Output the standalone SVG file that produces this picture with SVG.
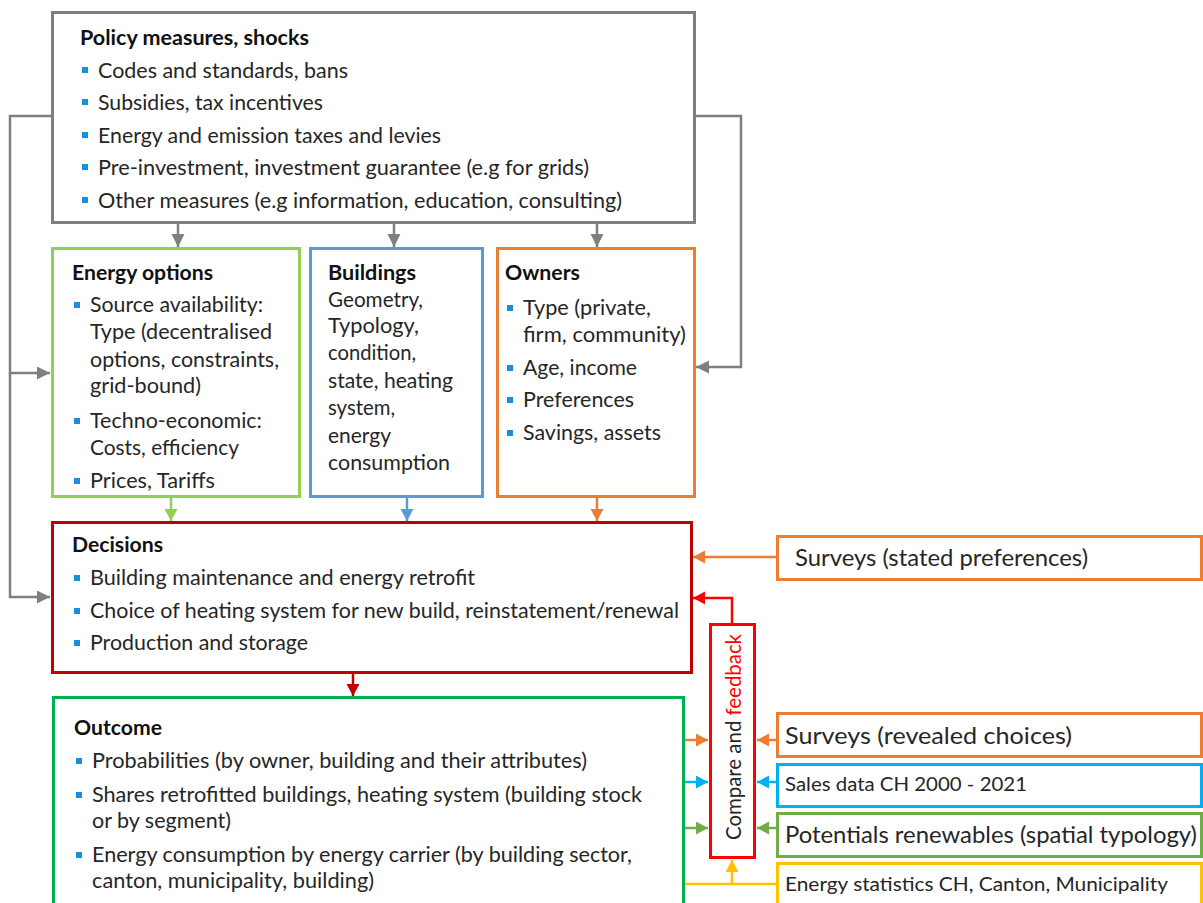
<svg xmlns="http://www.w3.org/2000/svg" width="1203" height="903" viewBox="0 0 1203 903">
<style>
text{font-family:Lato,"Liberation Sans",sans-serif;fill:#262626;font-size:21px}
.t{font-weight:bold;fill:#111}
.box{fill:#fff;stroke-width:3}
.b{fill:#1b8ed8}
.src{font-size:22.5px}
.lg{font-size:23.5px}
.sm{font-size:19.5px}
.c{fill:none;stroke-width:2.5}
</style>
<defs>
<marker id="ag" markerUnits="userSpaceOnUse" markerWidth="14" markerHeight="14" refX="13" refY="6.5" orient="auto"><path d="M0,0 L13,6.5 L0,13z" fill="#7f7f7f"/></marker>
<marker id="alg" markerUnits="userSpaceOnUse" markerWidth="14" markerHeight="14" refX="12" refY="6.5" orient="auto"><path d="M0,0 L12,6.5 L0,13z" fill="#92d050"/></marker>
<marker id="abl" markerUnits="userSpaceOnUse" markerWidth="14" markerHeight="14" refX="12" refY="6.5" orient="auto"><path d="M0,0 L12,6.5 L0,13z" fill="#5b9bd5"/></marker>
<marker id="aor" markerUnits="userSpaceOnUse" markerWidth="14" markerHeight="14" refX="12" refY="6.5" orient="auto"><path d="M0,0 L12,6.5 L0,13z" fill="#ed7d31"/></marker>
<marker id="adr" markerUnits="userSpaceOnUse" markerWidth="14" markerHeight="14" refX="12" refY="6.5" orient="auto"><path d="M0,0 L12,6.5 L0,13z" fill="#c00000"/></marker>
<marker id="ard" markerUnits="userSpaceOnUse" markerWidth="14" markerHeight="14" refX="12" refY="6.5" orient="auto"><path d="M0,0 L12,6.5 L0,13z" fill="#ff0000"/></marker>
<marker id="acy" markerUnits="userSpaceOnUse" markerWidth="14" markerHeight="14" refX="12" refY="6.5" orient="auto"><path d="M0,0 L12,6.5 L0,13z" fill="#00b0f0"/></marker>
<marker id="agr" markerUnits="userSpaceOnUse" markerWidth="14" markerHeight="14" refX="12" refY="6.5" orient="auto"><path d="M0,0 L12,6.5 L0,13z" fill="#70ad47"/></marker>
<marker id="aye" markerUnits="userSpaceOnUse" markerWidth="14" markerHeight="14" refX="12" refY="6.5" orient="auto"><path d="M0,0 L12,6.5 L0,13z" fill="#ffc000"/></marker>
</defs>
<rect width="1203" height="903" fill="#fff"/>

<g id="connectors">
<path class="c" stroke="#7f7f7f" d="M52,116 H10 V373 H50" marker-end="url(#ag)"/>
<path class="c" stroke="#7f7f7f" d="M10,373 V597 H50" marker-end="url(#ag)"/>
<path class="c" stroke="#7f7f7f" d="M695,116 H741 V367 H696" marker-end="url(#ag)"/>
<path class="c" stroke="#7f7f7f" d="M178,223 V247" marker-end="url(#ag)"/>
<path class="c" stroke="#7f7f7f" d="M394,223 V247" marker-end="url(#ag)"/>
<path class="c" stroke="#7f7f7f" d="M597,223 V247" marker-end="url(#ag)"/>
<path class="c" stroke="#92d050" d="M171,498 V521" marker-end="url(#alg)"/>
<path class="c" stroke="#5b9bd5" d="M407,498 V521" marker-end="url(#abl)"/>
<path class="c" stroke="#ed7d31" d="M597,498 V521" marker-end="url(#aor)"/>
<path class="c" stroke="#c00000" d="M353,674 V696" marker-end="url(#adr)"/>
<path class="c" stroke="#ed7d31" stroke-width="2" d="M777,557 H693" marker-end="url(#aor)"/>
<path class="c" stroke="#ff0000" d="M732,624 V598 H693" marker-end="url(#ard)"/>
<path class="c" stroke="#ed7d31" d="M684,740 H708" marker-end="url(#aor)"/>
<path class="c" stroke="#00b0f0" d="M684,782 H708" marker-end="url(#acy)"/>
<path class="c" stroke="#70ad47" d="M684,828 H708" marker-end="url(#agr)"/>
<path class="c" stroke="#ed7d31" d="M777,740 H757" marker-end="url(#aor)"/>
<path class="c" stroke="#00b0f0" d="M777,782 H757" marker-end="url(#acy)"/>
<path class="c" stroke="#70ad47" d="M777,828 H757" marker-end="url(#agr)"/>
<path class="c" stroke="#ffc000" d="M684,884 H777"/>
<path class="c" stroke="#ffc000" d="M732,884 V860" marker-end="url(#aye)"/>
</g>

<g id="policy">
<rect class="box" x="52.5" y="12.5" width="642" height="210" stroke="#7f7f7f"/>
<text class="t" x="80" y="45" textLength="229" lengthAdjust="spacingAndGlyphs">Policy measures, shocks</text>
<rect class="b" x="82" y="67" width="6" height="6"/><text x="98" y="78" textLength="250" lengthAdjust="spacingAndGlyphs">Codes and standards, bans</text>
<rect class="b" x="82" y="99" width="6" height="6"/><text x="98" y="110" textLength="225" lengthAdjust="spacingAndGlyphs">Subsidies, tax incentives</text>
<rect class="b" x="82" y="132" width="6" height="6"/><text x="98" y="143" textLength="343" lengthAdjust="spacingAndGlyphs">Energy and emission taxes and levies</text>
<rect class="b" x="82" y="164" width="6" height="6"/><text x="98" y="175" textLength="491" lengthAdjust="spacingAndGlyphs">Pre-investment, investment guarantee (e.g for grids)</text>
<rect class="b" x="82" y="197" width="6" height="6"/><text x="98" y="208" textLength="524" lengthAdjust="spacingAndGlyphs">Other measures (e.g information, education, consulting)</text>
</g>

<g id="energy-options">
<rect class="box" x="52.5" y="248.5" width="247" height="248" stroke="#92d050"/>
<text class="t" x="72" y="280" textLength="141" lengthAdjust="spacingAndGlyphs">Energy options</text>
<rect class="b" x="74" y="302" width="6" height="6"/><text x="90" y="312" textLength="173" lengthAdjust="spacingAndGlyphs">Source availability:</text>
<text x="90" y="339" textLength="182" lengthAdjust="spacingAndGlyphs">Type (decentralised</text>
<text x="90" y="367" textLength="189" lengthAdjust="spacingAndGlyphs">options, constraints,</text>
<text x="90" y="393" textLength="111" lengthAdjust="spacingAndGlyphs">grid-bound)</text>
<rect class="b" x="74" y="418" width="6" height="6"/><text x="90" y="428" textLength="172" lengthAdjust="spacingAndGlyphs">Techno-economic:</text>
<text x="90" y="455" textLength="149" lengthAdjust="spacingAndGlyphs">Costs, efficiency</text>
<rect class="b" x="74" y="478" width="6" height="6"/><text x="90" y="488" textLength="125" lengthAdjust="spacingAndGlyphs">Prices, Tariffs</text>
</g>

<g id="buildings">
<rect class="box" x="310.5" y="248.5" width="172" height="248" stroke="#5b9bd5"/>
<text class="t" x="328" y="280" textLength="88" lengthAdjust="spacingAndGlyphs">Buildings</text>
<text x="328" y="307" textLength="95" lengthAdjust="spacingAndGlyphs">Geometry,</text>
<text x="328" y="333" textLength="91" lengthAdjust="spacingAndGlyphs">Typology,</text>
<text x="328" y="360" textLength="88" lengthAdjust="spacingAndGlyphs">condition,</text>
<text x="328" y="388" textLength="125" lengthAdjust="spacingAndGlyphs">state, heating</text>
<text x="328" y="415" textLength="67" lengthAdjust="spacingAndGlyphs">system,</text>
<text x="328" y="443" textLength="63" lengthAdjust="spacingAndGlyphs">energy</text>
<text x="328" y="470" textLength="122" lengthAdjust="spacingAndGlyphs">consumption</text>
</g>

<g id="owners">
<rect class="box" x="497.5" y="248.5" width="197" height="248" stroke="#ed7d31"/>
<text class="t" x="505" y="280" textLength="75" lengthAdjust="spacingAndGlyphs">Owners</text>
<rect class="b" x="507" y="305" width="6" height="6"/><text x="523" y="315" textLength="128" lengthAdjust="spacingAndGlyphs">Type (private,</text>
<text x="523" y="342" textLength="163" lengthAdjust="spacingAndGlyphs">firm, community)</text>
<rect class="b" x="507" y="365" width="6" height="6"/><text x="523" y="375" textLength="114" lengthAdjust="spacingAndGlyphs">Age, income</text>
<rect class="b" x="507" y="397" width="6" height="6"/><text x="523" y="407" textLength="111" lengthAdjust="spacingAndGlyphs">Preferences</text>
<rect class="b" x="507" y="430" width="6" height="6"/><text x="523" y="440" textLength="138" lengthAdjust="spacingAndGlyphs">Savings, assets</text>
</g>

<g id="decisions">
<rect class="box" x="52.5" y="522.5" width="639" height="150" stroke="#c00000"/>
<text class="t" x="72" y="552" textLength="91" lengthAdjust="spacingAndGlyphs">Decisions</text>
<rect class="b" x="74" y="575" width="6" height="6"/><text x="90" y="585" textLength="385" lengthAdjust="spacingAndGlyphs">Building maintenance and energy retrofit</text>
<rect class="b" x="74" y="608" width="6" height="6"/><text x="90" y="618" textLength="589" lengthAdjust="spacingAndGlyphs">Choice of heating system for new build, reinstatement/renewal</text>
<rect class="b" x="74" y="640" width="6" height="6"/><text x="90" y="650" textLength="218" lengthAdjust="spacingAndGlyphs">Production and storage</text>
</g>

<g id="outcome">
<rect class="box" x="53.5" y="697.5" width="630" height="220" stroke="#00b050"/>
<text class="t" x="74" y="735" textLength="88" lengthAdjust="spacingAndGlyphs">Outcome</text>
<rect class="b" x="76" y="758" width="6" height="6"/><text x="92" y="768" textLength="495" lengthAdjust="spacingAndGlyphs">Probabilities (by owner, building and their attributes)</text>
<rect class="b" x="76" y="792" width="6" height="6"/><text x="92" y="802" textLength="550" lengthAdjust="spacingAndGlyphs">Shares retrofitted buildings, heating system (building stock</text>
<text x="92" y="828" textLength="139" lengthAdjust="spacingAndGlyphs">or by segment)</text>
<rect class="b" x="76" y="852" width="6" height="6"/><text x="92" y="862" textLength="540" lengthAdjust="spacingAndGlyphs">Energy consumption by energy carrier (by building sector,</text>
<text x="92" y="888" textLength="282" lengthAdjust="spacingAndGlyphs">canton, municipality, building)</text>
</g>

<g id="compare">
<rect class="box" x="710.5" y="624.5" width="44" height="233" stroke="#ff0000"/>
<text transform="translate(741,840) rotate(-90)" textLength="206" lengthAdjust="spacingAndGlyphs">Compare and <tspan fill="#ff0000">feedback</tspan></text>
</g>

<g id="surveys-stated">
<rect class="box" x="777.5" y="536.5" width="424" height="43" stroke="#ed7d31"/>
<text class="src" x="795" y="566" textLength="293" lengthAdjust="spacingAndGlyphs">Surveys (stated preferences)</text>
</g>
<g id="surveys-revealed">
<rect class="box" x="777.5" y="713.5" width="424" height="43" stroke="#ed7d31"/>
<text class="lg" x="785" y="744" textLength="287" lengthAdjust="spacingAndGlyphs">Surveys (revealed choices)</text>
</g>
<g id="sales-data">
<rect class="box" x="777.5" y="764.5" width="424" height="42" stroke="#00b0f0"/>
<text class="sm" x="785" y="791" textLength="242" lengthAdjust="spacingAndGlyphs">Sales data CH 2000 - 2021</text>
</g>
<g id="potentials">
<rect class="box" x="777.5" y="813.5" width="424" height="43" stroke="#70ad47"/>
<text class="src" x="785" y="843" textLength="412" lengthAdjust="spacingAndGlyphs">Potentials renewables (spatial typology)</text>
</g>
<g id="energy-statistics">
<rect class="box" x="777.5" y="863.5" width="424" height="50" stroke="#ffc000"/>
<text class="sm" x="785" y="891" textLength="383" lengthAdjust="spacingAndGlyphs">Energy statistics CH, Canton, Municipality</text>
</g>
</svg>
